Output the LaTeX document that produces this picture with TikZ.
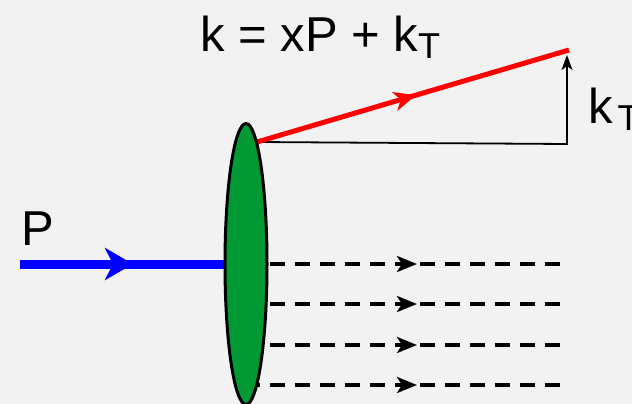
\documentclass[tikz,border=0pt]{standalone}
\usepackage{fontspec}
\setmainfont{Liberation Sans}
\usetikzlibrary{positioning,arrows.meta,shapes.geometric,decorations.markings}
\definecolor{bgcol}{RGB}{242,242,242}
\definecolor{protgreen}{RGB}{0,153,51}
\newcommand{\bigfont}{\fontsize{49}{52}\selectfont}
\newcommand{\subT}{\raisebox{-7pt}{\fontsize{36}{38}\selectfont T}}
\pgfdeclarelayer{paper}
\pgfdeclarelayer{lines}
\pgfsetlayers{paper,lines,main}

\begin{document}
\begin{tikzpicture}[x=1pt,y=-1pt,
  proton/.style={ellipse,draw=black,line width=3pt,fill=protgreen,minimum width=42pt,minimum height=281pt,inner sep=0pt},
  beam/.style={draw=blue,line width=9pt,postaction={decorate},
    decoration={markings,mark=at position 113pt with {\arrow{Stealth[length=28pt,width=32pt,inset=8pt]}}}},
  quark/.style={draw=red,line width=5pt,postaction={decorate},
    decoration={markings,mark=at position 0.51 with {\arrow{Stealth[length=22pt,width=19pt,inset=6pt]}}}},
  parton/.style={draw=black,line width=3.5pt,dash pattern=on 15pt off 10pt,postaction={decorate},
    decoration={markings,mark=at position 172pt with {\arrow{Stealth[length=20pt,width=16pt,inset=5pt]}}}},
  kperp/.style={draw=black,line width=1.8pt,-{Stealth[length=15pt,width=11pt,inset=4pt]}},
  lbl/.style={inner sep=0pt,font=\bigfont}]
  \useasboundingbox (0,0) rectangle (632,404);
  \begin{pgfonlayer}{paper}
    \fill[bgcol] (0,0) rectangle (632,404);
  \end{pgfonlayer}
  % target
  \node[proton] (prot) at (246,264) {};
  % incoming proton
  \coordinate (pin) at (20,264);
  % struck quark and transverse part
  \coordinate (qs) at (257,142);
  \coordinate (qe) at (569,50);
  \coordinate (kc) at (567,144);
  \coordinate (kt) at (567,55);
  \begin{pgfonlayer}{lines}
    \draw[beam] (pin) -- (prot.west);
    \foreach \y [count=\i] in {264,304,345,385}{
      \coordinate (ps\i) at (245,\y);
      \coordinate (pe\i) at (560,\y);
      \draw[parton] (ps\i) -- (pe\i);
    }
    \draw[kperp] (qs) -- (kc) -- (kt);
    \draw[quark] (qs) -- (qe);
  \end{pgfonlayer}
  % labels
  \node[lbl,anchor=base west] (eq) at (200,52) {k = xP + k\subT};
  \node[lbl,anchor=base west] (plab) at (21,245) {P};
  \node[lbl,anchor=base west] (ktlab) at (588,123) {k\hspace{5pt}\subT};
\end{tikzpicture}
\end{document}
